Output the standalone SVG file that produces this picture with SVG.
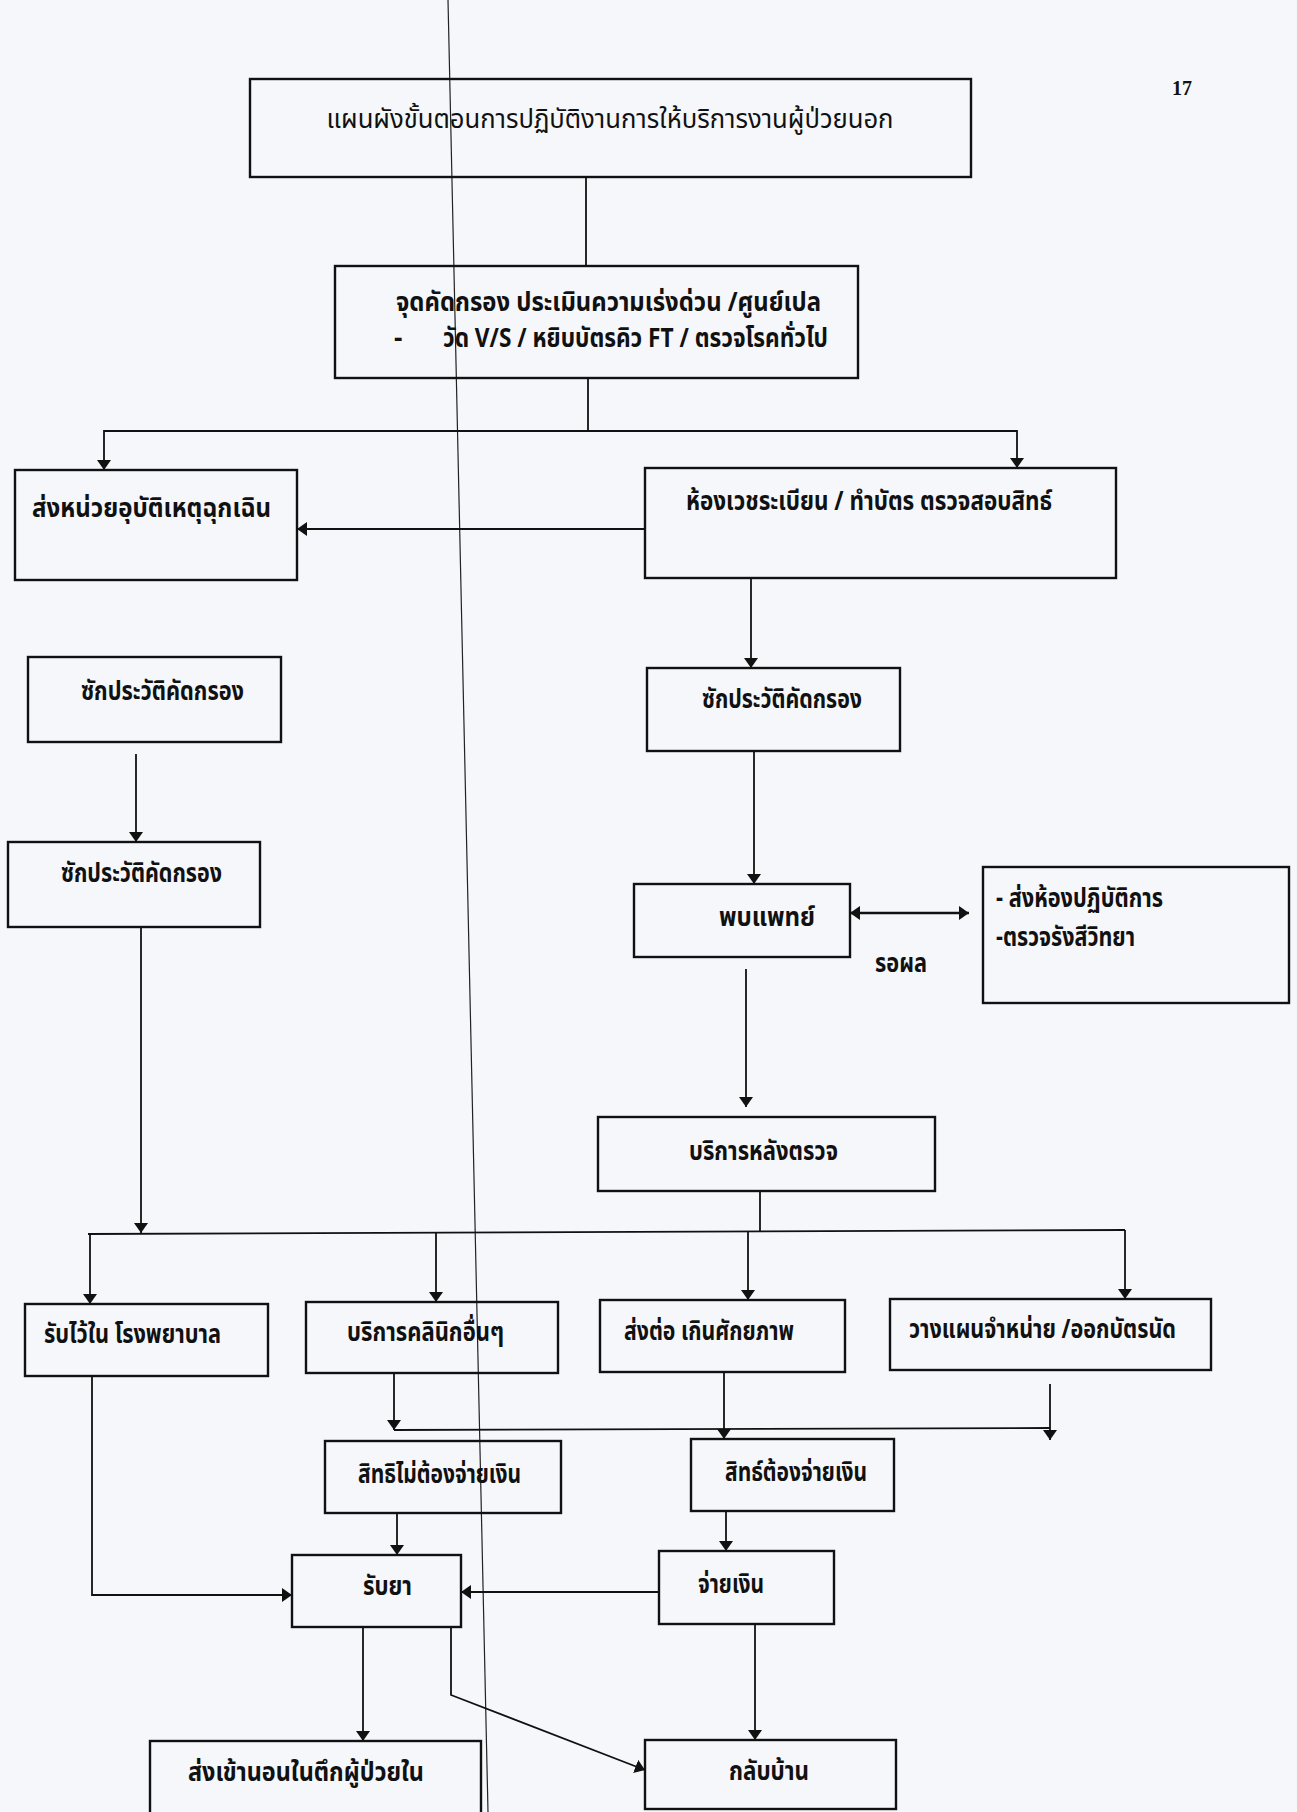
<svg xmlns="http://www.w3.org/2000/svg" width="1297" height="1812" viewBox="0 0 1297 1812">
<defs>
<style>
.bx{fill:none;stroke:#111;stroke-width:2.4}
.t{font-family:"Noto Sans Thai","Tahoma","DejaVu Sans","Noto Sans",sans-serif;font-size:26px;font-weight:bold;fill:#111}
.r{font-weight:normal}
.c{text-anchor:middle}
.ln{fill:none;stroke:#111;stroke-width:1.8}
</style>
<marker id="ah2" viewBox="0 0 10 10" refX="10" refY="5" markerWidth="10" markerHeight="14" markerUnits="userSpaceOnUse" orient="auto-start-reverse" preserveAspectRatio="none">
<path d="M0,0 L10,5 L0,10 z" fill="#111"/>
</marker>
</defs>
<rect width="1297" height="1812" fill="#f5f7fb"/>
<line x1="448" y1="0" x2="488" y2="1812" stroke="#222" stroke-width="1.2"/>
<text x="1172" y="95" font-family="Liberation Serif,serif" font-size="20" font-weight="bold" fill="#111">17</text>

<g id="n-title"><rect class="bx" x="250" y="79" width="721" height="98"/><text class="t r c" x="610" y="128" font-size="30" textLength="567" lengthAdjust="spacingAndGlyphs">แผนผังขั้นตอนการปฏิบัติงานการให้บริการงานผู้ป่วยนอก</text></g>
<g id="n-screen"><rect class="bx" x="335" y="266" width="523" height="112"/>
<text class="t" x="396" y="311" textLength="425" lengthAdjust="spacingAndGlyphs">จุดคัดกรอง ประเมินความเร่งด่วน /ศูนย์เปล</text>
<text class="t" x="394" y="347">-</text>
<text class="t" x="443" y="347" textLength="385" lengthAdjust="spacingAndGlyphs">วัด V/S  / หยิบบัตรคิว  FT / ตรวจโรคทั่วไป</text></g>
<g id="n-er"><rect class="bx" x="15" y="470" width="282" height="110"/><text class="t" x="32" y="517" font-size="31" textLength="239" lengthAdjust="spacingAndGlyphs">ส่งหน่วยอุบัติเหตุฉุกเฉิน</text></g>
<g id="n-reg"><rect class="bx" x="645" y="468" width="471" height="110"/><text class="t" x="686" y="510" textLength="366" lengthAdjust="spacingAndGlyphs">ห้องเวชระเบียน / ทำบัตร ตรวจสอบสิทธ์</text></g>
<g id="n-hist-l1"><rect class="bx" x="28" y="657" width="253" height="85"/><text class="t" x="81" y="700" textLength="163" lengthAdjust="spacingAndGlyphs">ซักประวัติคัดกรอง</text></g>
<g id="n-hist-l2"><rect class="bx" x="8" y="842" width="252" height="85"/><text class="t" x="61" y="882" textLength="161" lengthAdjust="spacingAndGlyphs">ซักประวัติคัดกรอง</text></g>
<g id="n-hist-r"><rect class="bx" x="647" y="668" width="253" height="83"/><text class="t" x="702" y="708" textLength="160" lengthAdjust="spacingAndGlyphs">ซักประวัติคัดกรอง</text></g>
<g id="n-doctor"><rect class="bx" x="634" y="884" width="216" height="73"/><text class="t" x="719" y="926" textLength="96" lengthAdjust="spacingAndGlyphs">พบแพทย์</text></g>
<g id="n-lab"><rect class="bx" x="983" y="867" width="306" height="136"/>
<text class="t" x="996" y="907" textLength="167" lengthAdjust="spacingAndGlyphs">- ส่งห้องปฏิบัติการ</text>
<text class="t" x="996" y="946" textLength="139" lengthAdjust="spacingAndGlyphs">-ตรวจรังสีวิทยา</text></g>
<text class="t" x="875" y="972" textLength="52" lengthAdjust="spacingAndGlyphs">รอผล</text>
<g id="n-after"><rect class="bx" x="598" y="1117" width="337" height="74"/><text class="t" x="689" y="1160" textLength="149" lengthAdjust="spacingAndGlyphs">บริการหลังตรวจ</text></g>
<g id="n-admit"><rect class="bx" x="25" y="1304" width="243" height="72"/><text class="t" x="44" y="1343" textLength="177" lengthAdjust="spacingAndGlyphs">รับไว้ใน โรงพยาบาล</text></g>
<g id="n-clinic"><rect class="bx" x="306" y="1302" width="252" height="71"/><text class="t" x="347" y="1341" textLength="157" lengthAdjust="spacingAndGlyphs">บริการคลินิกอื่นๆ</text></g>
<g id="n-refer"><rect class="bx" x="600" y="1300" width="245" height="72"/><text class="t" x="624" y="1340" textLength="170" lengthAdjust="spacingAndGlyphs">ส่งต่อ เกินศักยภาพ</text></g>
<g id="n-plan"><rect class="bx" x="890" y="1299" width="321" height="71"/><text class="t" x="909" y="1338" textLength="267" lengthAdjust="spacingAndGlyphs">วางแผนจำหน่าย /ออกบัตรนัด</text></g>
<g id="n-free"><rect class="bx" x="325" y="1441" width="236" height="72"/><text class="t" x="358" y="1483" textLength="163" lengthAdjust="spacingAndGlyphs">สิทธิไม่ต้องจ่ายเงิน</text></g>
<g id="n-pay-right"><rect class="bx" x="691" y="1439" width="203" height="72"/><text class="t" x="725" y="1481" textLength="142" lengthAdjust="spacingAndGlyphs">สิทธ์ต้องจ่ายเงิน</text></g>
<g id="n-drug"><rect class="bx" x="292" y="1555" width="169" height="72"/><text class="t" x="363" y="1595" textLength="49" lengthAdjust="spacingAndGlyphs">รับยา</text></g>
<g id="n-pay"><rect class="bx" x="659" y="1551" width="175" height="73"/><text class="t" x="698" y="1593" textLength="66" lengthAdjust="spacingAndGlyphs">จ่ายเงิน</text></g>
<g id="n-ward"><rect class="bx" x="150" y="1741" width="331" height="80"/><text class="t" x="188" y="1781" textLength="236" lengthAdjust="spacingAndGlyphs">ส่งเข้านอนในตึกผู้ป่วยใน</text></g>
<g id="n-home"><rect class="bx" x="645" y="1740" width="251" height="69"/><text class="t" x="729" y="1780" textLength="80" lengthAdjust="spacingAndGlyphs">กลับบ้าน</text></g>

<g id="connectors" class="ln">
<line x1="586" y1="177" x2="586" y2="266"/>
<polyline points="588,378 588,431"/>
<polyline points="104,470 104,431 1017,431 1017,468" marker-start="url(#ah2)" marker-end="url(#ah2)"/>
<line x1="645" y1="529" x2="297" y2="529" marker-end="url(#ah2)"/>
<line x1="751" y1="578" x2="751" y2="668" marker-end="url(#ah2)"/>
<line x1="136" y1="754" x2="136" y2="842" marker-end="url(#ah2)"/>
<line x1="754" y1="751" x2="754" y2="884" marker-end="url(#ah2)"/>
<line x1="850" y1="913" x2="969" y2="913" stroke-width="2.5" marker-start="url(#ah2)" marker-end="url(#ah2)"/>
<line x1="746" y1="969" x2="746" y2="1107" marker-end="url(#ah2)"/>
<line x1="141" y1="927" x2="141" y2="1233" marker-end="url(#ah2)"/>
<line x1="760" y1="1191" x2="760" y2="1232"/>
<line x1="88" y1="1234" x2="1125" y2="1230"/>
<line x1="90" y1="1234" x2="90" y2="1304" marker-end="url(#ah2)"/>
<line x1="436" y1="1233" x2="436" y2="1302" marker-end="url(#ah2)"/>
<line x1="748" y1="1232" x2="748" y2="1300" marker-end="url(#ah2)"/>
<line x1="1125" y1="1230" x2="1125" y2="1299" marker-end="url(#ah2)"/>
<line x1="394" y1="1373" x2="394" y2="1430" marker-end="url(#ah2)"/>
<line x1="394" y1="1430" x2="1050" y2="1428"/>
<line x1="724" y1="1372" x2="724" y2="1439" marker-end="url(#ah2)"/>
<line x1="1050" y1="1384" x2="1050" y2="1440" marker-end="url(#ah2)"/>
<line x1="397" y1="1513" x2="397" y2="1555" marker-end="url(#ah2)"/>
<line x1="726" y1="1511" x2="726" y2="1551" marker-end="url(#ah2)"/>
<line x1="659" y1="1592" x2="461" y2="1592" marker-end="url(#ah2)"/>
<polyline points="92,1376 92,1595 292,1595" marker-end="url(#ah2)"/>
<line x1="363" y1="1627" x2="363" y2="1741" marker-end="url(#ah2)"/>
<polyline points="451,1627 451,1695 645,1770" marker-end="url(#ah2)"/>
<line x1="755" y1="1624" x2="755" y2="1740" marker-end="url(#ah2)"/>
</g>
</svg>
